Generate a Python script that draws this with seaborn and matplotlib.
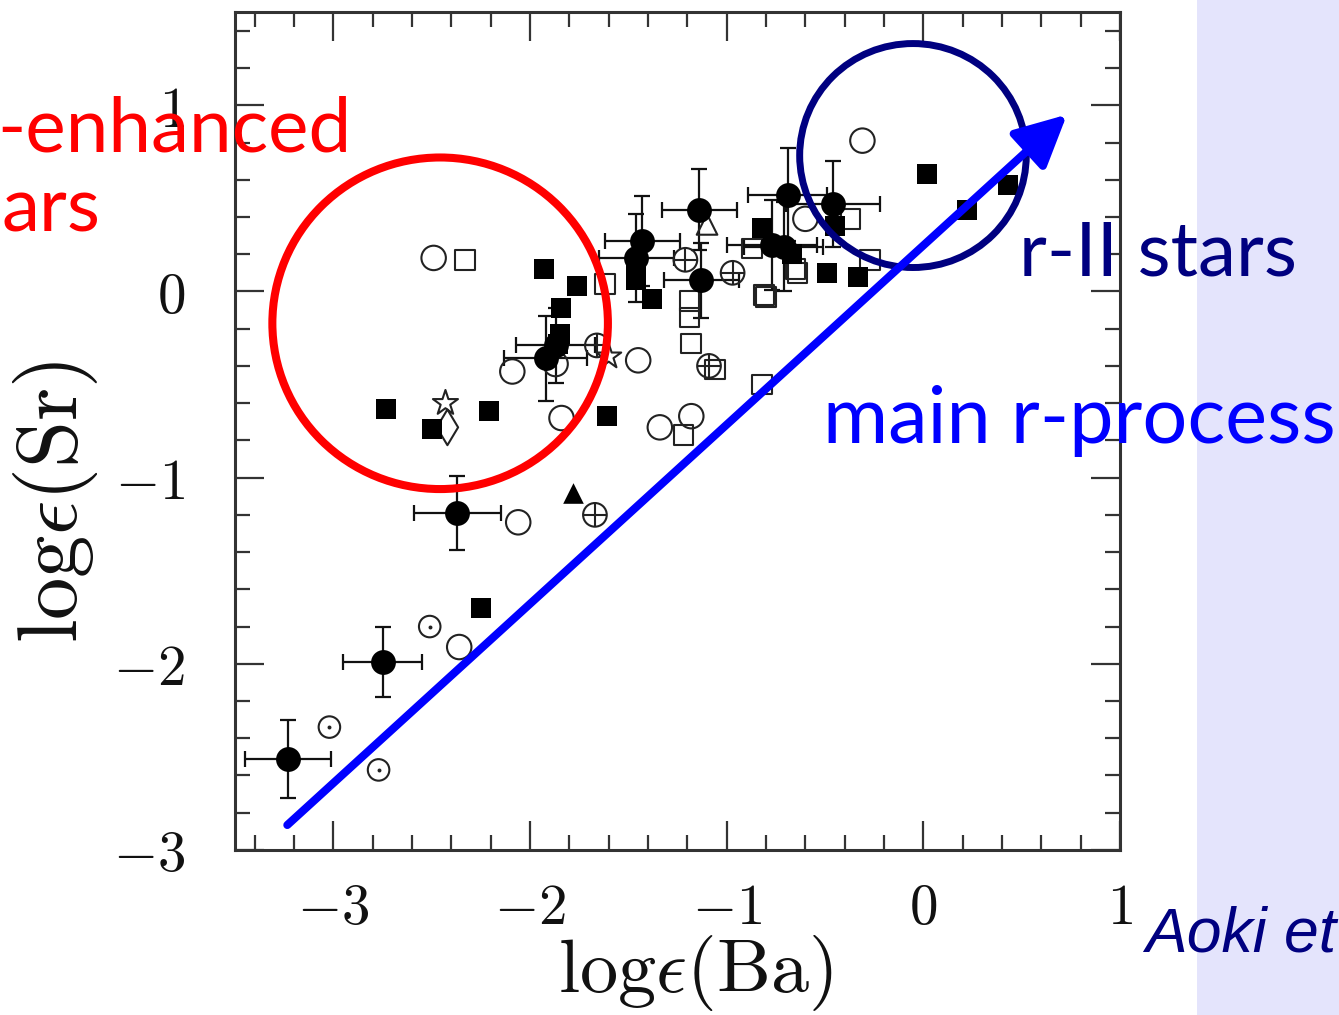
import matplotlib
matplotlib.use('Agg')
import matplotlib.pyplot as plt
import seaborn as sns
import pandas as pd
import numpy as np
from matplotlib.patches import Ellipse, Rectangle
from matplotlib.ticker import MultipleLocator, FuncFormatter

# filled circles with error bars: log eps(Ba), log eps(Sr), errors
err_ba = [-3.23, -2.75, -2.37, -1.92, -1.87, -1.43, -1.46, -1.14, -1.13, -0.69, -0.46, -0.77, -0.71]
err_sr = [-2.51, -1.99, -1.19, -0.36, -0.29, 0.27, 0.18, 0.44, 0.06, 0.52, 0.47, 0.25, 0.24]
err_xe = [0.22, 0.20, 0.22, 0.21, 0.20, 0.19, 0.19, 0.19, 0.19, 0.20, 0.24, 0.23, 0.20]
err_ye = [0.21, 0.19, 0.20, 0.23, 0.20, 0.24, 0.235, 0.22, 0.20, 0.25, 0.23, 0.24, 0.24]

fsq_ba = [-2.73, -2.50, -2.21, -1.93, -1.76, -1.84, -1.85, -1.86, -1.61, -2.25, -1.46, -1.46,
          -1.38, -0.82, -0.67, -0.45, -0.49, -0.33, 0.02, 0.22, 0.43]
fsq_sr = [-0.63, -0.74, -0.64, 0.12, 0.03, -0.09, -0.23, -0.28, -0.67, -1.70, 0.13, 0.06,
          -0.04, 0.34, 0.20, 0.35, 0.10, 0.08, 0.63, 0.44, 0.57]

oc_ba = [-2.49, -2.09, -1.84, -1.45, -1.34, -1.18, -0.60, -0.31, -2.06, -2.36, -1.87]
oc_sr = [0.18, -0.43, -0.68, -0.37, -0.73, -0.67, 0.39, 0.81, -1.24, -1.91, -0.39]

osq_ba = [-2.33, -1.62, -1.19, -1.19, -1.18, -1.06, -1.22, -0.82, -0.87, -0.81, -0.80,
          -0.65, -0.64, -0.37, -0.27]
osq_sr = [0.17, 0.04, -0.05, -0.14, -0.28, -0.42, -0.77, -0.50, 0.23, -0.02, -0.03,
          0.12, 0.10, 0.39, 0.17]

oplus_ba = [-1.21, -0.97, -1.09, -1.67, -1.66]
oplus_sr = [0.17, 0.10, -0.40, -1.20, -0.29]

odot_ba = [-3.02, -2.51, -2.77]
odot_sr = [-2.34, -1.80, -2.57]

star_ba = [-2.43, -1.60]
star_sr = [-0.60, -0.35]
diam_ba = [-2.42]
diam_sr = [-0.73]
otri_ba = [-1.10]
otri_sr = [0.36]
ftri_ba = [-1.78]
ftri_sr = [-1.08]

sns.set_style("ticks")
plt.rcParams['mathtext.fontset'] = 'cm'
plt.rcParams['font.family'] = ['DejaVu Sans']

fig = plt.figure(figsize=(13.39, 10.15), dpi=100)
fig.patches.append(Rectangle((1197 / 1339, 0), 1 - 1197 / 1339, 1, transform=fig.transFigure,
                             facecolor='#e4e4fc', edgecolor='none', zorder=0))
ax = fig.add_axes([0.1755, 0.1626, 0.661, 0.8254])
ax.set_facecolor('white')


def pts(x, y):
    return pd.DataFrame({'ba': x, 'sr': y})


ink = '#111111'
ax.errorbar(err_ba, err_sr, xerr=err_xe, yerr=err_ye, fmt='none', ecolor=ink,
            elinewidth=1.6, capsize=6, capthick=1.6, zorder=2)
sns.scatterplot(data=pts(err_ba, err_sr), x='ba', y='sr', marker='o', s=320,
                color='black', edgecolor='black', linewidth=0, ax=ax, zorder=3)
sns.scatterplot(data=pts(fsq_ba, fsq_sr), x='ba', y='sr', marker='s', s=210,
                color='black', edgecolor='black', linewidth=0, ax=ax, zorder=3)
for xs, ys, mk, sz in [(oc_ba, oc_sr, 'o', 310), (osq_ba, osq_sr, 's', 200),
                       (oplus_ba, oplus_sr, 'o', 290), (odot_ba, odot_sr, 'o', 240),
                       (star_ba, star_sr, '*', 360), (diam_ba, diam_sr, 'd', 330),
                       (otri_ba, otri_sr, '^', 220)]:
    sns.scatterplot(data=pts(xs, ys), x='ba', y='sr', marker=mk, s=sz,
                    facecolor='none', edgecolor='#222222', linewidth=1.5, ax=ax, zorder=2.5)
sns.scatterplot(data=pts(oplus_ba, oplus_sr), x='ba', y='sr', marker='+', s=290,
                color='#222222', linewidth=1.5, ax=ax, zorder=2.5)
sns.scatterplot(data=pts(odot_ba, odot_sr), x='ba', y='sr', marker='o', s=8,
                color='#222222', edgecolor='#222222', linewidth=0, ax=ax, zorder=2.5)
sns.scatterplot(data=pts(ftri_ba, ftri_sr), x='ba', y='sr', marker='^', s=220,
                color='black', edgecolor='black', linewidth=0, ax=ax, zorder=3)

# highlight circles and main r-process arrow
ax.add_patch(Ellipse((-2.457, -0.171), 1.706, 1.781, fill=False, edgecolor='#ff0000',
                     linewidth=5.8, zorder=5, clip_on=False))
ax.add_patch(Ellipse((-0.053, 0.730), 1.152, 1.203, fill=False, edgecolor='#000080',
                     linewidth=5.0, zorder=5, clip_on=False))
ax.annotate('', xy=(0.73, 0.95), xytext=(-3.234, -2.866),
            arrowprops=dict(arrowstyle='-|>', color='#0000ff', lw=5.8, mutation_scale=78,
                            shrinkA=0, shrinkB=0),
            annotation_clip=False, zorder=6)

ax.set_xlim(-3.5, 1)
ax.set_ylim(-3, 1.5)
ax.xaxis.set_major_locator(MultipleLocator(1))
ax.yaxis.set_major_locator(MultipleLocator(1))
ax.xaxis.set_minor_locator(MultipleLocator(0.2))
ax.yaxis.set_minor_locator(MultipleLocator(0.2))
fmt = FuncFormatter(lambda v, p: r'$%d$' % round(v))
ax.xaxis.set_major_formatter(fmt)
ax.yaxis.set_major_formatter(fmt)
ax.tick_params(which='both', direction='in', top=True, right=True, color='#333333', width=1.6)
ax.tick_params(which='major', length=21, labelsize=41, labelcolor=ink)
ax.tick_params(which='minor', length=11)
ax.tick_params(axis='x', which='major', pad=22)
ax.tick_params(axis='y', which='major', pad=36)
for sp in ax.spines.values():
    sp.set_linewidth(2.2)
    sp.set_color('#333333')

ax.set_xlabel(r'$\mathrm{log}\epsilon(\mathrm{Ba})$', fontsize=55, color=ink)
ax.set_ylabel(r'$\mathrm{log}\epsilon(\mathrm{Sr})$', fontsize=61, color=ink)
ax.xaxis.set_label_coords(0.52, -0.099)
ax.yaxis.set_label_coords(-0.152, 0.415)


def ftext(px, py, s, **kw):
    fig.text(px / 1339, 1 - py / 1015, s, va='baseline', **kw)


ftext(352, 152, '-enhanced', ha='right', color='#ff0000', fontsize=55, family='Lato')
ftext(1, 232, 'ars', ha='left', color='#ff0000', fontsize=55, family='Lato')
ftext(1019, 275, 'r-II stars', ha='left', color='#000080', fontsize=55, family='Lato')
ftext(823, 443, 'main r-process', ha='left', color='#0000ff', fontsize=57, family='Lato')
ftext(1145, 952, 'Aoki et', ha='left', color='#000080', fontsize=45,
      family='Liberation Sans', style='italic')

fig.savefig('out.png', dpi=100)
